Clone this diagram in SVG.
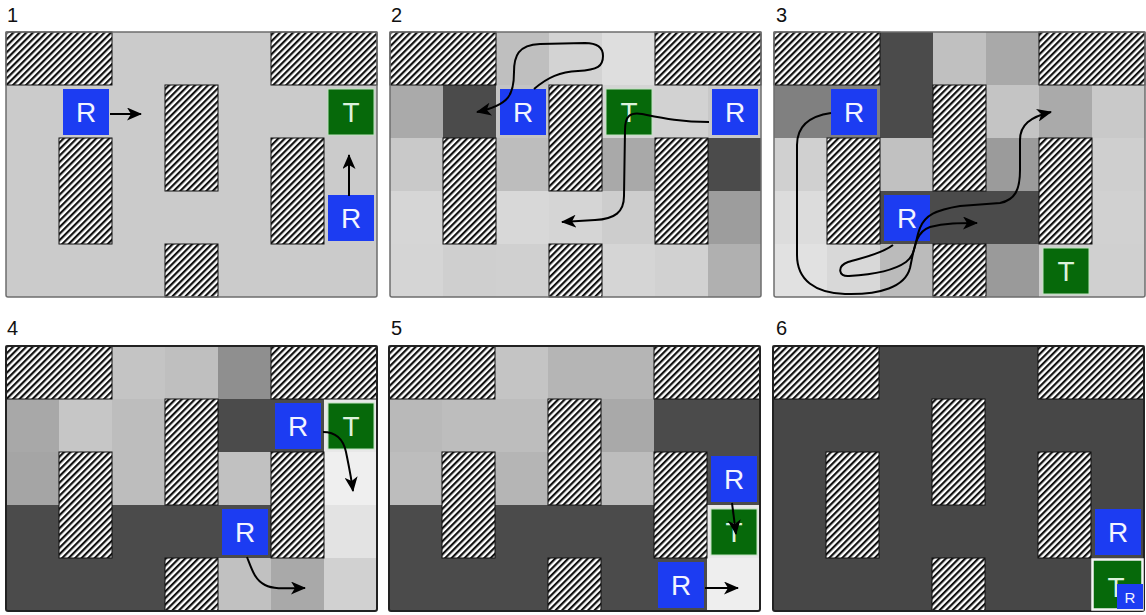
<svg xmlns="http://www.w3.org/2000/svg" xmlns:xlink="http://www.w3.org/1999/xlink" width="1146" height="615" viewBox="0 0 1146 615">
  <style>
    .lbl { font-family: "Liberation Sans", Arial, sans-serif; font-size: 20px; fill: #111; }
    .frame { fill: none; stroke: #6e6e6e; stroke-width: 1.5; }
    .frame-dk { fill: none; stroke: #222; stroke-width: 2; }
    .obs { fill: url(#hatch); stroke: #111; stroke-width: 1; }
    .rob rect { fill: #1c3cf2; }
    .tgt rect { fill: #06690a; stroke: #bfe3bf; stroke-width: 1; }
    .tgt6 rect { fill: #06690a; stroke: #f4f4f4; stroke-width: 2.5; }
    .rob text, .tgt text, .tgt6 text { font-family: "Liberation Sans", Arial, sans-serif; font-size: 28px; text-anchor: middle; }
    .rob text { fill: #f2f4ff; }
    .tgt text, .tgt6 text { fill: #dcf2dc; }
    .mini text { font-size: 15px; }
    .d { fill: #4b4b4b; }
    .conn path { fill: none; stroke: #000; stroke-width: 2; marker-end: url(#head); }
  </style>
  <defs>
    <pattern id="hatch" width="4.6" height="4.6" patternUnits="userSpaceOnUse" patternTransform="rotate(45)">
      <rect width="4.6" height="4.6" fill="#fff"/>
      <rect width="2.2" height="4.6" fill="#111"/>
    </pattern>
    <marker id="head" viewBox="0 0 15 13" refX="14" refY="6.5" markerWidth="15" markerHeight="13" markerUnits="userSpaceOnUse" orient="auto">
      <path d="M0,0 L15,6.5 L0,13 L4,6.5 Z" fill="#000"/>
    </marker>
    <!-- wall blocks shared by every panel (local grid, 53px cells) -->
    <g id="walls">
      <rect class="obs" x="0" y="0" width="106" height="53"/>
      <rect class="obs" x="265" y="0" width="106" height="53"/>
      <rect class="obs" x="159" y="53" width="53" height="106"/>
      <rect class="obs" x="53" y="106" width="53" height="106"/>
      <rect class="obs" x="265" y="106" width="53" height="106"/>
      <rect class="obs" x="159" y="212" width="53" height="53"/>
    </g>
  </defs>

  <rect width="1146" height="615" fill="#fff"/>

  <!-- panel labels -->
  <text class="lbl" x="7" y="22">1</text>
  <text class="lbl" x="391" y="22">2</text>
  <text class="lbl" x="776" y="22">3</text>
  <text class="lbl" x="7" y="335">4</text>
  <text class="lbl" x="391" y="335">5</text>
  <text class="lbl" x="776" y="335">6</text>

  <!-- panel 1 -->
  <g id="panel1" transform="translate(6,32)">
    <rect width="371" height="265" fill="#cbcbcb"/>
    <use href="#walls"/>
    <rect class="frame" width="371" height="265" rx="2"/>
    <g id="p1-robot-a" class="rob"><rect x="57" y="57" width="46" height="46"/><text x="80" y="90">R</text></g>
    <g id="p1-target" class="tgt"><rect x="322" y="57" width="46" height="46"/><text x="345" y="90">T</text></g>
    <g id="p1-robot-b" class="rob"><rect x="322" y="163" width="46" height="46"/><text x="345" y="196">R</text></g>
  </g>

  <!-- panel 2 -->
  <g id="panel2" transform="translate(390,32)">
    <rect width="371" height="265" fill="#d0d0d0"/>
    <rect x="106" y="0" width="53" height="53" fill="#bfbfbf"/>
    <rect x="159" y="0" width="53" height="53" fill="#d3d3d3"/>
    <rect x="212" y="0" width="53" height="53" fill="#dedede"/>
    <rect x="0" y="53" width="53" height="53" fill="#aaaaaa"/>
    <rect class="d" x="53" y="53" width="53" height="53"/>
    <rect x="106" y="53" width="53" height="53" fill="#c4c4c4"/>
    <rect x="212" y="53" width="53" height="53" fill="#d4d4d4"/>
    <rect x="265" y="53" width="53" height="53" fill="#d2d2d2"/>
    <rect x="318" y="53" width="53" height="53" fill="#c8c8c8"/>
    <rect x="0" y="106" width="53" height="53" fill="#c9c9c9"/>
    <rect x="106" y="106" width="53" height="53" fill="#bdbdbd"/>
    <rect x="212" y="106" width="53" height="53" fill="#a9a9a9"/>
    <rect class="d" x="318" y="106" width="53" height="53"/>
    <rect x="0" y="159" width="53" height="53" fill="#d6d6d6"/>
    <rect x="106" y="159" width="53" height="53" fill="#d8d8d8"/>
    <rect x="159" y="159" width="53" height="53" fill="#d5d5d5"/>
    <rect x="212" y="159" width="53" height="53" fill="#cdcdcd"/>
    <rect x="318" y="159" width="53" height="53" fill="#9d9d9d"/>
    <rect x="0" y="212" width="53" height="53" fill="#d5d5d5"/>
    <rect x="53" y="212" width="53" height="53" fill="#cfcfcf"/>
    <rect x="106" y="212" width="53" height="53" fill="#d0d0d0"/>
    <rect x="212" y="212" width="53" height="53" fill="#d5d5d5"/>
    <rect x="265" y="212" width="53" height="53" fill="#d1d1d1"/>
    <rect x="318" y="212" width="53" height="53" fill="#b0b0b0"/>
    <use href="#walls"/>
    <rect class="frame" width="371" height="265" rx="2"/>
    <g id="p2-robot-a" class="rob"><rect x="110" y="57" width="46" height="46"/><text x="133" y="90">R</text></g>
    <g id="p2-target" class="tgt"><rect x="216" y="57" width="46" height="46"/><text x="239" y="90">T</text></g>
    <g id="p2-robot-b" class="rob"><rect x="322" y="57" width="46" height="46"/><text x="345" y="90">R</text></g>
  </g>

  <!-- panel 3 -->
  <g id="panel3" transform="translate(774,32)">
    <rect width="371" height="265" fill="#d0d0d0"/>
    <rect class="d" x="106" y="0" width="53" height="53"/>
    <rect x="159" y="0" width="53" height="53" fill="#c0c0c0"/>
    <rect x="212" y="0" width="53" height="53" fill="#a9a9a9"/>
    <rect x="0" y="53" width="53" height="53" fill="#808080"/>
    <rect x="53" y="53" width="53" height="53" fill="#808080"/>
    <rect class="d" x="106" y="53" width="53" height="53"/>
    <rect x="212" y="53" width="53" height="53" fill="#c4c4c4"/>
    <rect x="265" y="53" width="53" height="53" fill="#aaaaaa"/>
    <rect x="318" y="53" width="53" height="53" fill="#c9c9c9"/>
    <rect x="0" y="106" width="53" height="53" fill="#d0d0d0"/>
    <rect x="106" y="106" width="53" height="53" fill="#c1c1c1"/>
    <rect x="212" y="106" width="53" height="53" fill="#9b9b9b"/>
    <rect x="318" y="106" width="53" height="53" fill="#cfcfcf"/>
    <rect x="0" y="159" width="53" height="53" fill="#dcdcdc"/>
    <rect class="d" x="106" y="159" width="53" height="53"/>
    <rect class="d" x="159" y="159" width="53" height="53"/>
    <rect class="d" x="212" y="159" width="53" height="53"/>
    <rect x="318" y="159" width="53" height="53" fill="#d1d1d1"/>
    <rect x="0" y="212" width="53" height="53" fill="#e1e1e1"/>
    <rect x="53" y="212" width="53" height="53" fill="#d8d8d8"/>
    <rect x="106" y="212" width="53" height="53" fill="#bbbbbb"/>
    <rect x="212" y="212" width="53" height="53" fill="#9a9a9a"/>
    <rect x="265" y="212" width="53" height="53" fill="#d0d0d0"/>
    <rect x="318" y="212" width="53" height="53" fill="#d0d0d0"/>
    <use href="#walls"/>
    <rect class="frame" width="371" height="265" rx="2"/>
    <g id="p3-robot-a" class="rob"><rect x="57" y="57" width="46" height="46"/><text x="80" y="90">R</text></g>
    <g id="p3-robot-b" class="rob"><rect x="110" y="163" width="46" height="46"/><text x="133" y="196">R</text></g>
    <g id="p3-target" class="tgt"><rect x="269" y="216" width="46" height="46"/><text x="292" y="249">T</text></g>
  </g>

  <!-- panel 4 -->
  <g id="panel4" transform="translate(6,346)">
    <rect width="371" height="265" fill="#c8c8c8"/>
    <rect x="106" y="0" width="53" height="53" fill="#c4c4c4"/>
    <rect x="159" y="0" width="53" height="53" fill="#bfbfbf"/>
    <rect x="212" y="0" width="53" height="53" fill="#8f8f8f"/>
    <rect x="0" y="53" width="53" height="53" fill="#a8a8a8"/>
    <rect x="53" y="53" width="53" height="53" fill="#c6c6c6"/>
    <rect x="106" y="53" width="53" height="53" fill="#bdbdbd"/>
    <rect class="d" x="212" y="53" width="53" height="53"/>
    <rect class="d" x="265" y="53" width="53" height="53"/>
    <rect x="318" y="53" width="53" height="53" fill="#e8e8e8"/>
    <rect x="0" y="106" width="53" height="53" fill="#a5a5a5"/>
    <rect x="106" y="106" width="53" height="53" fill="#bdbdbd"/>
    <rect x="212" y="106" width="53" height="53" fill="#c1c1c1"/>
    <rect x="318" y="106" width="53" height="53" fill="#efefef"/>
    <rect class="d" x="0" y="159" width="53" height="53"/>
    <rect class="d" x="106" y="159" width="53" height="53"/>
    <rect class="d" x="159" y="159" width="53" height="53"/>
    <rect class="d" x="212" y="159" width="53" height="53"/>
    <rect x="318" y="159" width="53" height="53" fill="#e3e3e3"/>
    <rect class="d" x="0" y="212" width="159" height="53"/>
    <rect x="212" y="212" width="53" height="53" fill="#c1c1c1"/>
    <rect x="265" y="212" width="53" height="53" fill="#a9a9a9"/>
    <rect x="318" y="212" width="53" height="53" fill="#d1d1d1"/>
    <use href="#walls"/>
    <rect class="frame-dk" width="371" height="265" rx="2"/>
    <g id="p4-robot-a" class="rob"><rect x="269" y="57" width="46" height="46"/><text x="292" y="90">R</text></g>
    <g id="p4-target" class="tgt"><rect x="322" y="57" width="46" height="46"/><text x="345" y="90">T</text></g>
    <g id="p4-robot-b" class="rob"><rect x="216" y="163" width="46" height="46"/><text x="239" y="196">R</text></g>
  </g>

  <!-- panel 5 -->
  <g id="panel5" transform="translate(389,346)">
    <rect width="371" height="265" fill="#4b4b4b"/>
    <rect x="106" y="0" width="53" height="53" fill="#c4c4c4"/>
    <rect x="159" y="0" width="106" height="53" fill="#b5b5b5"/>
    <rect x="0" y="53" width="53" height="53" fill="#b9b9b9"/>
    <rect x="53" y="53" width="106" height="53" fill="#bdbdbd"/>
    <rect x="212" y="53" width="53" height="53" fill="#a9a9a9"/>
    <rect x="0" y="106" width="53" height="53" fill="#bdbdbd"/>
    <rect x="106" y="106" width="53" height="53" fill="#b5b5b5"/>
    <rect x="212" y="106" width="53" height="53" fill="#bdbdbd"/>
    <rect x="318" y="159" width="53" height="53" fill="#e8e8e8"/>
    <rect x="318" y="212" width="53" height="53" fill="#eeeeee"/>
    <use href="#walls"/>
    <rect class="frame-dk" width="371" height="265" rx="2"/>
    <g id="p5-robot-a" class="rob"><rect x="322" y="110" width="46" height="46"/><text x="345" y="143">R</text></g>
    <g id="p5-target" class="tgt"><rect x="322" y="163" width="46" height="46"/><text x="345" y="196">T</text></g>
    <g id="p5-robot-b" class="rob"><rect x="269" y="216" width="46" height="46"/><text x="292" y="249">R</text></g>
  </g>

  <!-- panel 6 -->
  <g id="panel6" transform="translate(773,346)">
    <rect width="371" height="265" fill="#474747"/>
    <use href="#walls"/>
    <rect class="frame-dk" width="371" height="265" rx="2"/>
    <g id="p6-robot-a" class="rob"><rect x="322" y="163" width="46" height="46"/><text x="345" y="196">R</text></g>
    <g id="p6-target" class="tgt6"><rect x="319.5" y="213.5" width="50" height="50"/><text x="343" y="251">T</text></g>
    <g id="p6-robot-b" class="rob mini"><rect x="344" y="238" width="26" height="25"/><text x="357" y="257">R</text></g>
  </g>

  <!-- movement arrows -->
  <g id="connectors" class="conn">
    <path d="M110,114 L141,114"/>
    <path d="M349,196 L349,155"/>
    <path d="M534,89 C548,77 560,72 578,71 C598,70 603,66 603,56 C603,47 597,43 585,43 L540,44 C518,45 514,56 514,72 C514,94 510,105 477,112"/>
    <path d="M709,122 C680,122 662,118 642,114 C630,112 625,116 625,130 L624,196 C624,212 615,219 595,220 L562,222"/>
    <path d="M831,113 C810,116 797,125 797,145 L797,255 C797,280 815,293 845,294 C880,295 905,287 910,268 C914,250 915,232 930,227 C945,223 960,223 977,223"/>
    <path d="M893,245 C880,255 860,258 848,262 C837,266 838,277 849,276 C866,275 892,272 906,262 C916,255 915,240 920,228 C925,215 936,210 960,206 L1000,203 C1015,200 1020,190 1020,170 L1020,140 C1020,125 1030,117 1051,112"/>
    <path d="M323,432 C335,432 343,438 346,452 C348,462 351,476 353,491"/>
    <path d="M247,557 C252,570 255,580 265,585 C275,590 290,588 305,588"/>
    <path d="M732,503 L736,534"/>
    <path d="M705,588 L738,588"/>
  </g>
</svg>
